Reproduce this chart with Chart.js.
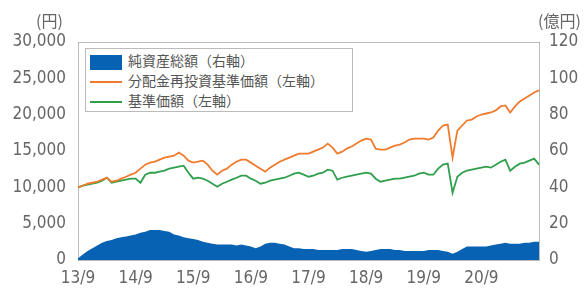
<!DOCTYPE html>
<html>
<head>
<meta charset="utf-8">
<script src="https://cdn.jsdelivr.net/npm/chart.js@4/dist/chart.umd.min.js"></script>
<style>
  body { margin: 0; background: #fff; }
  #wrap { position: relative; width: 585px; height: 293px; overflow: hidden; }
  .unit { position: absolute; font: 16px 'Noto Sans CJK JP', sans-serif; color: #666; white-space: nowrap; }
  #legend { position: absolute; left: 85px; top: 48px; width: 266px; height: 62px;
            border: 1px solid #bbb; background: #fff; font: 14px 'Noto Sans CJK JP', sans-serif; color: #555; }
  #legend div { height: 18px; line-height: 18px; margin-top: 2px; white-space: nowrap; }
  #legend span.key { display: inline-block; width: 32px; margin: 0 6px 0 4px; vertical-align: middle; }
</style>
</head>
<body>
<div id="wrap">
  <canvas id="myChart" width="585" height="293"></canvas>
  <div class="unit" style="left:36px; top:8px;">(円)</div>
  <div class="unit" style="left:538px; top:8px;">(億円)</div>
  <div id="legend"></div>
</div>
<script>
// month labels 13/9 ... 21/9
let labels = []
for (let i = 0; i <= 96; i++) {
    let y = 13 + Math.floor((8 + i) / 12)
    let mo = (8 + i) % 12 + 1
    labels.push(y + '/' + mo)
}

// 分配金再投資基準価額 (円, left axis)
let reinvested = [
    10000, 10220, 10500, 10630, 10770, 11050, 11320, 10770, 10910, 11190, 11460, 11740,
    12010, 12570, 13120, 13400, 13530, 13810, 14090, 14220, 14360, 14780, 14360, 13670,
    13400, 13530, 13670, 13120, 12290, 11740, 12290, 12570, 13120, 13530, 13810, 13810,
    13400, 12980, 12570, 12150, 12710, 13120, 13530, 13810, 14090, 14360, 14640, 14640,
    14640, 14910, 15190, 15470, 16020, 15470, 14640, 14910, 15330, 15610, 16020, 16430,
    16710, 16570, 15330, 15190, 15190, 15470, 15740, 15880, 16160, 16570, 16710, 16710,
    16710, 16570, 16850, 17810, 18510, 18640, 14090, 17810, 18510, 19200, 19330, 19750,
    20020, 20160, 20300, 20580, 21130, 21270, 20300, 21130, 21820, 22230, 22650, 23060,
    23340
]

// 基準価額 (円, left axis)
let nav = [
    10000, 10220, 10360, 10500, 10630, 10910, 11320, 10630, 10770, 10910, 11050, 11190,
    11190, 10630, 11740, 12010, 12010, 12150, 12290, 12570, 12710, 12840, 12980, 12010,
    11190, 11320, 11190, 10910, 10500, 10080, 10500, 10770, 11050, 11320, 11600, 11600,
    11190, 10910, 10500, 10630, 10910, 11050, 11190, 11320, 11600, 11880, 12010, 11740,
    11460, 11600, 11880, 12010, 12430, 12290, 11050, 11320, 11460, 11600, 11740, 11880,
    12010, 11880, 11190, 10770, 10910, 11050, 11190, 11190, 11320, 11460, 11600, 11880,
    12010, 11740, 11740, 12570, 13120, 13260, 9250, 11460, 12010, 12290, 12430, 12570,
    12710, 12840, 12710, 13120, 13530, 13810, 12290, 12840, 13260, 13400, 13670, 13950,
    13120
]

// 純資産総額 (億円, right axis)
let netAssets = [
    1, 3, 5, 6.5, 8, 9.5, 10.5, 11, 12, 12.5, 13, 13.5,
    14, 15, 15.5, 16.5, 16.5, 16.5, 16, 15.5, 14, 13.5, 12.5, 12,
    11.5, 11, 10, 9.5, 9, 8.5, 8.5, 8.5, 8.5, 8, 8.5, 8,
    7.5, 6.5, 7.5, 9, 9.5, 9.5, 9, 8.5, 7.5, 6.5, 6.5, 6,
    6, 6, 5.5, 5.5, 5.5, 5.5, 5.5, 6, 6, 6, 5.5, 5,
    4.5, 5, 5.5, 6, 6, 6, 5.5, 5.5, 5, 5, 5, 5,
    5, 5.5, 5.5, 5.5, 5, 4.5, 3.5, 4.5, 6, 7.5, 7.5, 7.5,
    7.5, 7.5, 8, 8.5, 9, 9.5, 9, 9, 9, 9.5, 9.5, 10,
    10
]

let names = ['純資産総額（右軸）', '分配金再投資基準価額（左軸）', '基準価額（左軸）']
let colors = ['#0862b3', '#ef7b2d', '#2f9f4c']

Chart.defaults.font.family = "'DejaVu Sans Condensed', 'DejaVu Sans', sans-serif"
Chart.defaults.font.size = 17
Chart.defaults.color = '#666'

const ctx = document.getElementById('myChart').getContext('2d')
const myChart = new Chart(ctx, {
    data: {
        labels: labels,
        datasets: [{
            type: 'line',
            label: names[1],
            data: reinvested,
            yAxisID: 'y',
            borderColor: colors[1],
            borderWidth: 1.8,
            pointRadius: 0,
            tension: 0,
            order: 1
        }, {
            type: 'line',
            label: names[2],
            data: nav,
            yAxisID: 'y',
            borderColor: colors[2],
            borderWidth: 1.8,
            pointRadius: 0,
            tension: 0,
            order: 2
        }, {
            type: 'line',
            label: names[0],
            data: netAssets,
            yAxisID: 'y1',
            borderWidth: 0,
            backgroundColor: colors[0],
            fill: 'origin',
            pointRadius: 0,
            tension: 0,
            order: 3
        }]
    },
    options: {
        responsive: false,
        animation: false,
        layout: { padding: { top: 42 } },
        plugins: { legend: { display: false }, tooltip: { enabled: false } },
        scales: {
            x: {
                offset: false,
                grid: { display: false, drawTicks: false },
                border: { display: true, color: '#bbb' },
                ticks: {
                    autoSkip: false,
                    maxRotation: 0,
                    padding: 8,
                    callback: function (value, index) {
                        let l = this.getLabelForValue(value)
                        return (l.endsWith('/9') && index < labels.length - 1) ? l : null
                    }
                },
                afterFit: function (scale) { scale.height = 33 }
            },
            y: {
                position: 'left',
                min: 0,
                max: 30000,
                ticks: {
                    stepSize: 5000,
                    padding: 12,
                    callback: v => v.toLocaleString('en-US')
                },
                grid: {
                    drawTicks: false,
                    color: c => c.tick && c.tick.value === 30000 ? '#bbb' : 'rgba(0,0,0,0)'
                },
                border: { display: true, color: '#bbb' },
                afterFit: function (scale) { scale.width = 78 }
            },
            y1: {
                position: 'right',
                min: 0,
                max: 120,
                ticks: { stepSize: 20, padding: 10 },
                grid: { display: false, drawTicks: false },
                border: { display: true, color: '#bbb' },
                afterFit: function (scale) { scale.width = 46 }
            }
        }
    }
})

// html legend with border box
let legendEl = document.getElementById('legend')
let legendHtml = ''
for (let i = 0; i < names.length; i++) {
    let key = i === 0
        ? '<span class="key" style="height:15px;background:' + colors[i] + '"></span>'
        : '<span class="key" style="height:0;border-top:2px solid ' + colors[i] + '"></span>'
    legendHtml += '<div>' + key + names[i] + '</div>'
}
legendEl.innerHTML = legendHtml
</script>
</body>
</html>
